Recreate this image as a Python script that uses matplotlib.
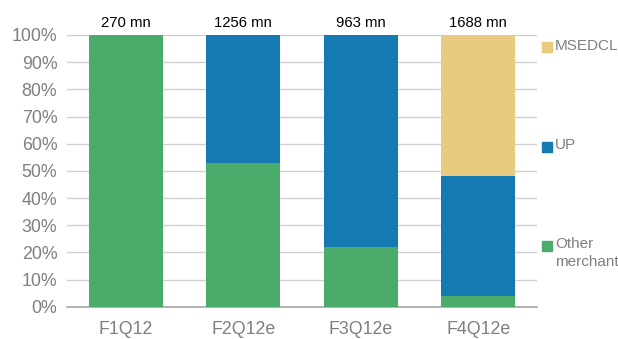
import numpy as np
import matplotlib.pyplot as plt
from matplotlib.patches import Rectangle

plt.rcParams['font.family'] = ['Liberation Sans', 'DejaVu Sans']

# donnees
categories = ["F1Q12", "F2Q12e", "F3Q12e", "F4Q12e"]
totaux = ["270 mn", "1256 mn", "963 mn", "1688 mn"]
other = [100, 53, 22, 4]
up = [0, 47, 78, 44]
msedcl = [0, 0, 0, 52]

series = [("Other\nmerchant", other, "#4aab6b"),
          ("UP", up, "#157ab2"),
          ("MSEDCL", msedcl, "#e8cb80")]

fig = plt.figure(figsize=(6.18, 3.39), dpi=100)
ax = fig.add_axes([67/618, 1 - 306.7/339, (537 - 67)/618, (306.7 - 35)/339])

x = np.arange(len(categories))
bas = np.zeros(len(categories))
for nom, vals, coul in series:
    ax.bar(x, vals, width=0.63, bottom=bas, color=coul, zorder=3)
    bas += np.array(vals)

for i, t in enumerate(totaux):
    ax.text(x[i], 101.8, t, ha="center", va="bottom", fontsize=10.7, color="black")

ax.set_xlim(-0.5, 3.5)
ax.set_ylim(0, 100)
ax.set_yticks(np.arange(0, 101, 10))
ax.set_yticklabels(["%d%%" % v for v in range(0, 101, 10)])
ax.set_xticks(x)
ax.set_xticklabels(categories)
ax.tick_params(axis="both", length=0, labelsize=12.8, labelcolor="#7f7f7f")
ax.tick_params(axis="x", pad=10)
ax.tick_params(axis="y", pad=7)
ax.grid(axis="y", color="#d0d0d0", linewidth=1, zorder=0)
for s in ["top", "right", "left"]:
    ax.spines[s].set_visible(False)
ax.spines["bottom"].set_color("#a6a6a6")
ax.spines["bottom"].set_linewidth(1.2)

# legende a droite
pos_leg = [(47, "MSEDCL", "#e8cb80"), (147, "UP", "#157ab2"), (246, "Other\nmerchant", "#4aab6b")]
for yp, nom, coul in pos_leg:
    fig.patches.append(Rectangle((542/618, 1 - (yp + 5)/339), 10/618, 10/339,
                                 transform=fig.transFigure, color=coul))
    fig.text(555/618, 1 - (yp - 8.5)/339, nom, ha="left", va="top",
             fontsize=11, color="#7f7f7f", linespacing=1.3)

fig.savefig("out.png", dpi=100)
